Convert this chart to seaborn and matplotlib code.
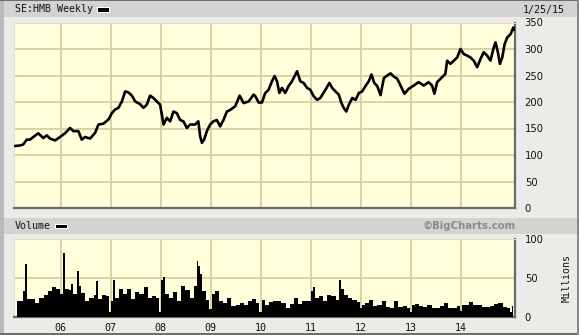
import matplotlib
matplotlib.use("Agg")
import matplotlib.pyplot as plt
import matplotlib.dates as mdates
from matplotlib.patches import Rectangle
import pandas as pd
import seaborn as sns

# ---------------- data ----------------
price_dates = [
    "2005-02-02", "2005-03-11", "2005-04-04", "2005-04-29", "2005-05-23", "2005-06-16",
    "2005-07-22", "2005-08-28", "2005-09-22", "2005-10-16", "2005-11-22", "2005-12-28",
    "2006-02-02", "2006-03-11", "2006-04-04", "2006-05-11", "2006-06-04", "2006-06-28",
    "2006-08-04", "2006-09-10", "2006-10-04", "2006-11-09", "2006-12-16", "2007-01-10",
    "2007-02-03", "2007-02-27", "2007-03-24", "2007-04-17", "2007-05-11", "2007-06-05",
    "2007-06-29", "2007-08-04", "2007-08-28", "2007-09-22", "2007-10-16", "2007-11-09",
    "2007-12-04", "2007-12-28", "2008-01-10", "2008-01-22", "2008-02-15", "2008-03-10",
    "2008-04-03", "2008-04-28", "2008-05-22", "2008-06-15", "2008-07-10", "2008-08-03",
    "2008-09-08", "2008-10-02", "2008-10-15", "2008-10-28", "2008-11-13", "2008-12-03",
    "2008-12-27", "2009-01-20", "2009-02-14", "2009-03-10", "2009-04-03", "2009-04-28",
    "2009-05-22", "2009-06-28", "2009-07-30", "2009-08-28", "2009-10-04", "2009-11-09",
    "2009-11-22", "2009-12-16", "2010-01-09", "2010-02-02", "2010-02-26", "2010-03-23",
    "2010-04-11", "2010-04-29", "2010-05-16", "2010-06-04", "2010-06-28", "2010-07-22",
    "2010-08-16", "2010-09-04", "2010-09-22", "2010-10-16", "2010-11-09", "2010-12-04",
    "2010-12-28", "2011-01-21", "2011-02-15", "2011-03-11", "2011-04-17", "2011-05-16",
    "2011-06-05", "2011-06-29", "2011-07-23", "2011-08-12", "2011-08-29", "2011-09-16",
    "2011-10-05", "2011-10-30", "2011-11-23", "2011-12-17", "2012-01-10", "2012-02-03",
    "2012-02-27", "2012-03-18", "2012-04-07", "2012-04-29", "2012-05-23", "2012-06-16",
    "2012-07-11", "2012-08-04", "2012-08-28", "2012-09-22", "2012-10-16", "2012-11-14",
    "2012-12-15", "2013-01-20", "2013-02-25", "2013-04-03", "2013-05-09", "2013-06-03",
    "2013-06-20", "2013-07-10", "2013-08-03", "2013-09-08", "2013-09-21", "2013-10-15",
    "2013-11-08", "2013-12-03", "2013-12-27", "2014-01-20", "2014-02-14", "2014-03-10",
    "2014-04-03", "2014-04-28", "2014-05-22", "2014-06-15", "2014-07-10", "2014-08-03",
    "2014-08-27", "2014-09-09", "2014-09-26", "2014-10-11", "2014-10-28", "2014-11-14",
    "2014-12-04", "2014-12-28", "2015-01-17", "2015-01-23",
]
price_values = [
    117, 118, 120, 129, 129, 134, 141, 132, 137, 131, 127.5, 134,
    141, 151, 145, 145, 129, 134, 131, 142, 157.5, 159, 167, 179,
    186, 189, 201, 220, 218, 212, 201, 196, 189, 195, 212, 207.6,
    201, 195, 176, 157.5, 170, 163.5, 182, 179, 166, 163.5, 151, 157.5,
    157.5, 163.5, 135, 123, 129, 145, 157.5, 163.5, 166, 154, 166, 182,
    185, 192, 212, 198, 201, 214, 210.8, 199, 199, 217, 223, 239,
    249, 239, 217, 226.6, 217, 230, 239, 249, 258, 239, 236, 226.6,
    223, 211, 204, 207.6, 223, 236, 226.6, 220, 214, 198, 188.6, 182,
    195, 207.6, 204, 217, 220, 230, 239, 252, 236, 230, 213, 245,
    250, 254, 248, 243.75, 231, 215.6, 225, 231, 237.5, 231, 237.5, 231,
    215.6, 237.5, 243.75, 253, 278, 272, 278, 284, 300, 290.6, 287.5, 284,
    278, 265.6, 281, 294, 287.5, 278, 303, 312.5, 294, 272, 284, 309,
    322, 328, 340.6, 336,
]

# monthly typical weekly volume (millions), Feb 2005 .. Jan 2015
vol_first_month = "2005-02"
vol_monthly = [
    20, 21, 33, 23, 23, 18, 25, 28, 33, 38, 36,
    30, 36, 35, 29, 40, 31, 21, 24, 28, 23, 28, 27,
    20, 25, 36, 29, 36, 23, 32, 30, 38, 25, 27, 25,
    47, 30, 25, 32, 20, 40, 34, 25, 40, 55, 33, 22,
    30, 33, 21, 18, 25, 14, 16, 18, 16, 20, 23, 18,
    22, 15, 19, 21, 21, 18, 12, 17, 25, 17, 20, 20,
    33, 25, 27, 21, 28, 27, 22, 36, 28, 25, 22, 19,
    16, 18, 22, 14, 16, 21, 13, 12, 20, 13, 14, 12,
    16, 17, 14, 13, 15, 12, 12, 14, 18, 12, 12, 14,
    15, 15, 19, 15, 15, 13, 13, 14, 17, 18, 13, 11,
    14,
]
# individual weeks that stand out (spikes / holiday lows)
vol_week_dates = [
    "2005-04-19", "2006-01-24", "2006-03-23", "2006-05-11", "2006-09-22",
    "2006-12-29", "2007-01-22", "2007-12-30", "2008-01-17", "2008-09-27",
    "2008-10-07", "2008-12-28", "2009-12-28", "2011-01-22", "2011-08-07",
    "2011-12-30", "2012-12-28", "2013-12-28", "2014-12-31",
]
vol_week_values = [
    68, 82, 42, 59, 46,
    6, 48, 6, 51, 72,
    66, 10, 6, 39, 48,
    12, 6, 8, 6,
]

year_ticks = ["2006", "2007", "2008", "2009", "2010", "2011", "2012", "2013", "2014"]
year_labels = ["06", "07", "08", "09", "10", "11", "12", "13", "14"]
price_ticks = [0, 50, 100, 150, 200, 250, 300, 350]
vol_ticks = [0, 50, 100]

# ---------------- style ----------------
W, H = 579, 335
BG = "#EBEBE7"
BAND = "#D3D3D1"
PLOT_BG = "#FFFFDC"
GRID = "#D2D2A0"
MONO = "DejaVu Sans Mono"

sns.set_theme(style="white")
plt.rcParams["font.family"] = ["DejaVu Sans"]

fig = plt.figure(figsize=(W / 100, H / 100), dpi=100, facecolor=BG)


def fx(x):
    return x / W


def fy(y):
    return 1 - y / H


def rect(x0, y0, x1, y1, color, z=0):
    fig.add_artist(Rectangle((fx(x0), fy(y1)), fx(x1 - x0), (y1 - y0) / H,
                             transform=fig.transFigure, facecolor=color,
                             edgecolor="none", zorder=z))


# borders and header bands
rect(0, 0, 4, H, "#B9B9B9")
rect(4, 1, W - 2, 17, BAND)
rect(4, 218, W - 2, 234, BAND)
rect(0, 0, W, 1.2, "#6E6E6E")
rect(0, H - 2, W, H, "#6E6E6E")
rect(W - 2, 0, W, H, "#8A8A8A")

tick_dates = pd.to_datetime([y + "-01-01" for y in year_ticks])
xmin, xmax = pd.Timestamp("2005-01-26"), pd.Timestamp("2015-01-29")


def style_axes(ax):
    ax.set_facecolor(PLOT_BG)
    ax.set_xlim(xmin, xmax)
    ax.set_xticks(tick_dates)
    ax.grid(True, color=GRID, linewidth=1.3)
    ax.set_axisbelow(True)
    for s in ["top", "left"]:
        ax.spines[s].set_color("#E0E0C8")
        ax.spines[s].set_linewidth(0.8)
    for s in ["right", "bottom"]:
        ax.spines[s].set_color("#6A6A6A")
        ax.spines[s].set_linewidth(1.6)
    ax.yaxis.tick_right()
    ax.tick_params(axis="y", length=0, pad=7, labelsize=7.2, labelcolor="#111111")
    ax.set_xlabel("")
    ax.set_ylabel("")


# ---------- price panel ----------
ax1 = fig.add_axes([fx(14), fy(208), fx(501), 185.5 / H])
price_df = pd.DataFrame({"date": pd.to_datetime(price_dates), "price": price_values})
sns.lineplot(data=price_df, x="date", y="price", ax=ax1, color="black",
             linewidth=1.9, zorder=3)
style_axes(ax1)
ax1.set_ylim(0, 350)
ax1.set_yticks(price_ticks)
ax1.set_yticklabels([str(v) for v in price_ticks])
ax1.tick_params(axis="x", length=0, labelbottom=False)

# ---------- volume panel ----------
ax2 = fig.add_axes([fx(14), fy(317), fx(501), 78 / H])
month_dates = pd.date_range(vol_first_month + "-01", periods=len(vol_monthly),
                            freq="MS") + pd.Timedelta(days=14)
vol_df = pd.concat([
    pd.DataFrame({"date": month_dates, "vol": vol_monthly}),
    pd.DataFrame({"date": pd.to_datetime(vol_week_dates), "vol": vol_week_values}),
]).sort_values("date").reset_index(drop=True)
ax2.fill_between(vol_df["date"], vol_df["vol"], step="mid", color="black",
                 linewidth=0, zorder=3)
style_axes(ax2)
ax2.set_ylim(0, 100)
ax2.set_yticks(vol_ticks)
ax2.set_yticklabels([str(v) for v in vol_ticks])
ax2.set_xticklabels(year_labels, family=MONO, fontsize=7.2, color="#111111")
ax2.tick_params(axis="x", length=0, pad=4)

# ---------- texts ----------
fig.text(fx(15), fy(9.5), "SE:HMB Weekly", family=MONO, fontsize=7.2,
         color="#111111", va="center", ha="left")
rect(97, 7, 110, 12.5, "white", z=5)
rect(98, 8, 109, 11.5, "black", z=6)
fig.text(fx(565), fy(9.5), "1/25/15", family=MONO, fontsize=7.2,
         color="#111111", va="center", ha="right")

fig.text(fx(15), fy(226), "Volume", family=MONO, fontsize=7.2,
         color="#111111", va="center", ha="left")
rect(55, 223.5, 68, 229, "white", z=5)
rect(56, 224.5, 67, 228, "black", z=6)
fig.text(fx(516), fy(226), "\u00a9BigCharts.com", fontsize=7.3, fontweight="bold",
         color="#8A8A8A", va="center", ha="right")
fig.text(fx(567), fy(278), "Millions", family=MONO, fontsize=7.2,
         color="#111111", va="center", ha="center", rotation=90)

fig.savefig("out.png", dpi=100, facecolor=BG)
